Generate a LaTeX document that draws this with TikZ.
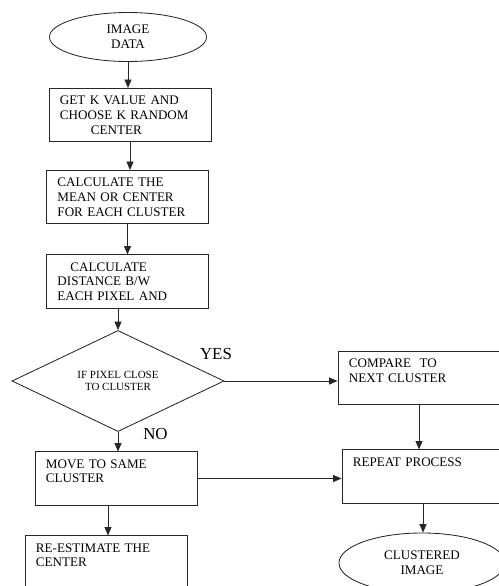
\documentclass[tikz,border=0pt]{standalone}
\usepackage{fontspec}
\setmainfont{Liberation Serif}
\usepackage{tikz}
\usetikzlibrary{shapes.geometric,arrows.meta,positioning}
\tikzset{
  proc/.style={rectangle,draw=black!85,line width=0.6pt,text width=3.5cm,inner xsep=0.275cm,
    minimum height=1.33cm,align=left,font=\fontsize{9.3}{10.5}\selectfont},
  term/.style={ellipse,draw=black!85,line width=0.6pt,minimum width=3.925cm,minimum height=1.225cm,
    inner sep=0pt,align=center,font=\fontsize{9.3}{10.5}\selectfont},
  cond/.style={diamond,draw=black!85,line width=0.6pt,minimum width=5.3cm,minimum height=2.05cm,
    inner sep=0pt,align=center,font=\fontsize{7.8}{9}\selectfont},
  arr/.style={-{Triangle[length=6pt,width=5pt]},line width=0.6pt,black!85},
  lbl/.style={font=\fontsize{12}{14}\selectfont,inner sep=0pt}
}
\begin{document}
\begin{tikzpicture}[x=0.025cm,y=-0.025cm]
\useasboundingbox (0,0) rectangle (499,586);
\clip (0,0) rectangle (499,586);
% left column
\node[term] (start) at (128,37) {IMAGE\\DATA};
\node[proc] (kval) at (130,115) {GET K VALUE AND\\CHOOSE K RANDOM\\\hspace*{0.775cm}CENTER};
\node[proc] (mean) at (127.5,197) {CALCULATE THE\\MEAN OR CENTER\\FOR EACH CLUSTER};
\node[proc] (dist) at (127.5,281.5) {\hspace*{0.325cm}CALCULATE\\DISTANCE B/W\\EACH PIXEL AND};
\node[cond] (dec) at (118,381) {IF PIXEL CLOSE\\TO CLUSTER};
\node[proc] (mov) at (116,478.5) {MOVE TO SAME\\CLUSTER\\~};
\node[proc] (re) at (106,562.5) {RE-ESTIMATE THE\\CENTER\\~};
% right column
\node[proc] (cmp) at (419,378) {COMPARE\ \ TO\\NEXT CLUSTER\\~};
\node[proc] (rep) at (423,476.5) {REPEAT PROCESS\\~\\~};
\node[term,minimum width=4.15cm,minimum height=1.5cm] (fin) at (422,563) {CLUSTERED\\IMAGE};
% labels
\node[lbl] (yes) at (216,353.5) {YES};
\node[lbl] (no) at (155.5,433.5) {NO};
% arrows
\draw[arr] (start.south) -- (start.south |- kval.north);
\draw[arr] (kval.south) -- (kval.south |- mean.north);
\draw[arr] (mean.south) -- (mean.south |- dist.north);
\draw[arr] (dec.north |- dist.south) -- (dec.north);
\draw[arr] (dec.south) -- (dec.south |- mov.north);
\draw[arr] ([xshift=0.05cm]re.north |- mov.south) -- ([xshift=0.05cm]re.north);
\draw[arr] (dec.east) -- (dec.east -| cmp.west);
\draw[arr] (mov.east) -- (mov.east -| rep.west);
\draw[arr] (cmp.south) -- (cmp.south |- rep.north);
\draw[arr] (rep.south) -- (rep.south |- fin.north);
\end{tikzpicture}
\end{document}
